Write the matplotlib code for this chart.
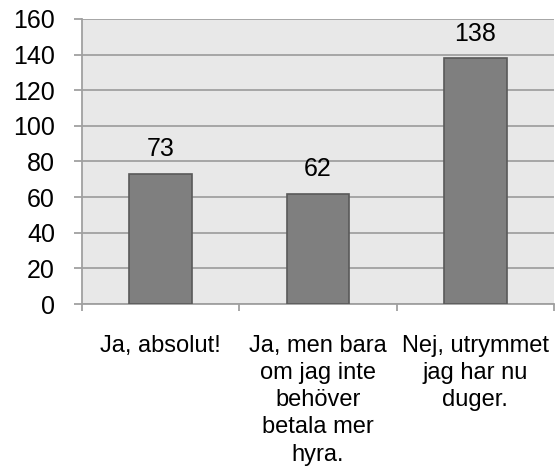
import matplotlib.pyplot as plt

plt.rcParams['font.family'] = ['Liberation Sans', 'DejaVu Sans']

# data
categories = ['Ja, absolut!',
              'Ja, men bara\nom jag inte\nbehöver\nbetala mer\nhyra.',
              'Nej, utrymmet\njag har nu\nduger.']
values = [73, 62, 138]
yticks = [0, 20, 40, 60, 80, 100, 120, 140, 160]

fig = plt.figure(figsize=(5.59, 4.69), dpi=100)
ax = fig.add_axes([82 / 559, 1 - 304 / 469, (554 - 82) / 559, (304 - 19) / 469])
ax.set_facecolor('#e8e8e8')

x = list(range(len(values)))
bars = ax.bar(x, values, width=0.4, color='#7f7f7f', edgecolor='#595959',
              linewidth=1.2, zorder=3)

for xi, v in zip(x, values):
    ax.annotate(str(v), (xi, v), xytext=(0, 9), textcoords='offset points',
                ha='center', va='bottom', fontsize=18)

ax.set_xlim(-0.5, len(values) - 0.5)
ax.set_ylim(0, 160)
ax.set_yticks(yticks)
ax.set_yticklabels([str(t) for t in yticks], fontsize=18)
ax.yaxis.grid(True, color='#a0a0a0', linewidth=1.3, zorder=0)
ax.set_axisbelow(True)

# category labels between boundary ticks
ax.set_xticks([i - 0.5 for i in range(len(values) + 1)])
ax.set_xticklabels([])
ax.set_xticks(x, minor=True)
ax.set_xticklabels(categories, minor=True, fontsize=17, linespacing=1.31, va='top')
ax.tick_params(axis='x', which='minor', length=0, pad=22)
ax.tick_params(axis='x', which='major', length=5, color='#a0a0a0', width=1.3)
ax.tick_params(axis='y', length=6, color='#a0a0a0', width=1.3, pad=13.5)

for s in ['top', 'right']:
    ax.spines[s].set_visible(False)
for s in ['left', 'bottom']:
    ax.spines[s].set_color('#a0a0a0')
    ax.spines[s].set_linewidth(1.3)

fig.savefig('out.png', dpi=100)
